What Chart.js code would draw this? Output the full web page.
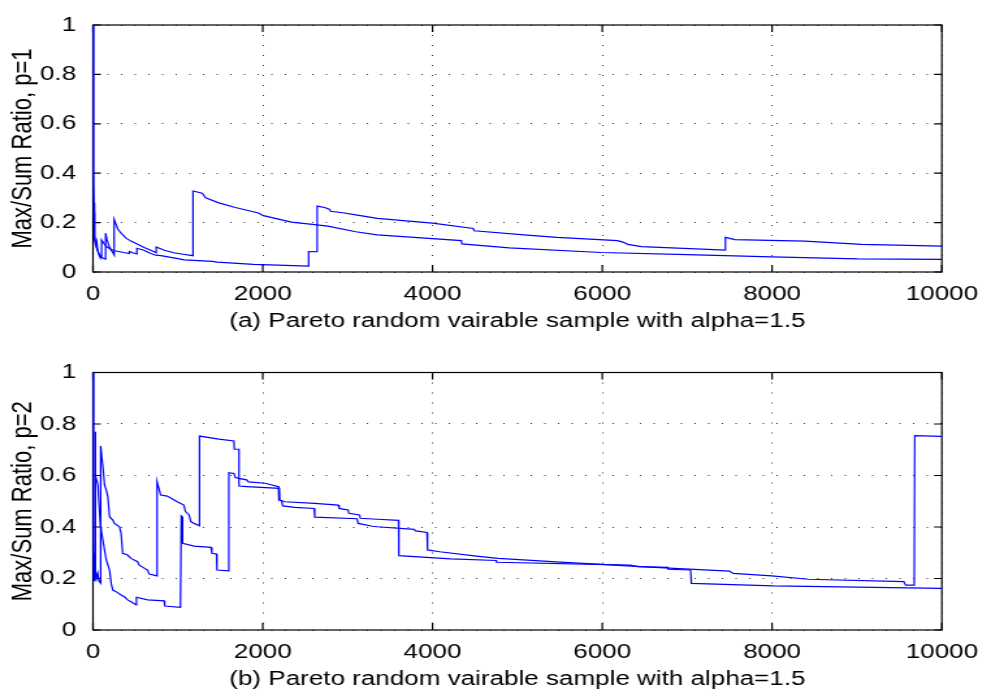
<!DOCTYPE html>
<html>
<head>
<meta charset="utf-8">
<script src="https://cdn.jsdelivr.net/npm/chart.js@4.4.1/dist/chart.umd.min.js"></script>
<style>
  html, body { margin: 0; padding: 0; background: #fff; }
  canvas { display: block; }
</style>
</head>
<body>
<!-- canvases are drawn 762 wide and stretched to 991, like the source figure -->
<canvas id="chartA" width="762" height="347" style="width:991px;height:347px"></canvas>
<canvas id="chartB" width="762" height="347" style="width:991px;height:347px"></canvas>
<script>
// tick values
const xTicks = [0, 2000, 4000, 6000, 8000, 10000]
const yTicks = [0, 0.2, 0.4, 0.6, 0.8, 1]

// (a) p=1, first run
const topAx = [1, 3, 6, 10, 15, 22, 30, 40, 55, 75, 100, 125, 148, 148, 165, 185, 210, 235, 249, 249,
  292, 331, 389, 447, 525, 603, 681, 745, 745, 840, 950, 1060, 1178, 1178, 1287, 1327, 1482, 1677, 1949, 2007,
  2337, 2610, 2766, 3096, 3349, 4340, 4345, 4905, 5987, 7000, 8000, 9009, 10000]
const topAy = [1, 0.6, 0.4, 0.28, 0.2, 0.15, 0.12, 0.1, 0.085, 0.07, 0.06, 0.055, 0.052, 0.157, 0.13, 0.11, 0.09, 0.078, 0.069, 0.213,
  0.174, 0.157, 0.137, 0.125, 0.112, 0.099, 0.088, 0.078, 0.101, 0.088, 0.078, 0.072, 0.066, 0.328, 0.319, 0.30, 0.28, 0.261, 0.239, 0.228,
  0.202, 0.192, 0.186, 0.163, 0.150, 0.127, 0.114, 0.098, 0.079, 0.07, 0.061, 0.053, 0.051]

// (a) p=1, second run
const topBx = [1, 3, 6, 10, 15, 22, 30, 43, 55, 70, 82, 101, 101, 130, 170, 210, 253, 300, 360, 428,
  428, 470, 517, 517, 600, 680, 739, 801, 1015, 1073, 1404, 1462, 1890, 1987, 2540, 2540, 2641, 2641, 2727, 2785,
  2800, 2941, 3096, 3349, 3998, 4480, 4490, 5077, 5467, 6180, 6250, 6300, 6460, 7450, 7450, 7562, 8385, 9055, 10000]
const topBy = [1, 0.55, 0.35, 0.24, 0.17, 0.13, 0.11, 0.125, 0.09, 0.07, 0.06, 0.058, 0.13, 0.115, 0.1, 0.092, 0.086, 0.083, 0.079, 0.075,
  0.083, 0.078, 0.073, 0.096, 0.088, 0.075, 0.068, 0.066, 0.053, 0.049, 0.043, 0.040, 0.031, 0.030, 0.024, 0.083, 0.082, 0.267, 0.261, 0.254,
  0.246, 0.240, 0.231, 0.217, 0.198, 0.176, 0.167, 0.150, 0.140, 0.127, 0.12, 0.112, 0.103, 0.089, 0.140, 0.131, 0.125, 0.112, 0.105]

// (b) p=2, first run
const botPx = [1, 3, 6, 10, 15, 20, 30, 40, 55, 70, 90, 90, 117, 136, 155, 175, 195, 233, 253, 311,
  331, 350, 408, 447, 525, 545, 642, 662, 755, 755, 797, 875, 992, 1070, 1089, 1132, 1152, 1190, 1255, 1255,
  1482, 1660, 1665, 1720, 1720, 1812, 2195, 2200, 2260, 2610, 2890, 2900, 3005, 3015, 3140, 3150, 3349, 3600, 3603, 4213,
  4750, 4755, 6332, 6419, 6770, 6775, 7040, 7050, 8017, 10000]
const botPy = [1, 0.5, 0.3, 0.2, 0.26, 0.19, 0.23, 0.2, 0.22, 0.19, 0.182, 0.715, 0.634, 0.563, 0.545, 0.518, 0.44, 0.427, 0.414, 0.401,
  0.375, 0.298, 0.291, 0.278, 0.265, 0.252, 0.233, 0.217, 0.21, 0.576, 0.524, 0.52, 0.498, 0.485, 0.46, 0.447, 0.421, 0.414, 0.405, 0.753,
  0.741, 0.734, 0.702, 0.702, 0.559, 0.557, 0.55, 0.505, 0.498, 0.492, 0.485, 0.472, 0.466, 0.453, 0.447, 0.434, 0.43, 0.426, 0.289, 0.276,
  0.27, 0.263, 0.252, 0.246, 0.243, 0.236, 0.233, 0.181, 0.171, 0.162]

// (b) p=2, second run
const botQx = [1, 3, 6, 10, 14, 18, 22, 27, 27, 31, 58, 70, 90, 97, 136, 156, 195, 214, 233, 272,
  331, 370, 408, 447, 510, 512, 642, 840, 845, 1030, 1040, 1050, 1056, 1190, 1390, 1400, 1455, 1460, 1597, 1600,
  1660, 1675, 1715, 1810, 1830, 2027, 2185, 2190, 2221, 2235, 2377, 2605, 2612, 3110, 3125, 3290, 3349, 3781, 3800, 3935,
  3941, 4085, 4516, 4773, 5554, 5942, 6289, 6785, 7499, 7542, 7995, 8428, 9552, 9573, 9675, 9681, 10000]
const botQy = [1, 0.6, 0.35, 0.22, 0.3, 0.19, 0.26, 0.2, 0.77, 0.6, 0.563, 0.492, 0.401, 0.388, 0.31, 0.272, 0.233, 0.181, 0.155, 0.149,
  0.136, 0.129, 0.117, 0.11, 0.097, 0.127, 0.117, 0.113, 0.093, 0.088, 0.443, 0.44, 0.337, 0.326, 0.321, 0.298, 0.295, 0.233, 0.23, 0.611,
  0.608, 0.593, 0.589, 0.583, 0.575, 0.57, 0.557, 0.505, 0.502, 0.482, 0.476, 0.472, 0.438, 0.432, 0.414, 0.403, 0.401, 0.391, 0.385, 0.379,
  0.311, 0.304, 0.287, 0.278, 0.263, 0.256, 0.249, 0.24, 0.229, 0.22, 0.21, 0.197, 0.188, 0.174, 0.174, 0.755, 0.752]

Chart.defaults.font.family = "'Liberation Sans', Arial, sans-serif"
Chart.defaults.color = "#000"

// axes box with inward tick marks, like matlab
const boxPlugin = {
  id: "box",
  beforeDatasetsDraw(chart) {
    const { ctx, chartArea: a, scales } = chart
    ctx.save()
    ctx.strokeStyle = "#000"
    ctx.lineWidth = 1.2
    ctx.strokeRect(a.left, a.top, a.right - a.left, a.bottom - a.top)
    ctx.beginPath()
    scales.x.ticks.forEach((t) => {
      const px = scales.x.getPixelForValue(t.value)
      ctx.moveTo(px, a.bottom)
      ctx.lineTo(px, a.bottom - 7)
      ctx.moveTo(px, a.top)
      ctx.lineTo(px, a.top + 7)
    })
    scales.y.ticks.forEach((t) => {
      const py = scales.y.getPixelForValue(t.value)
      ctx.moveTo(a.left, py)
      ctx.lineTo(a.left + 6, py)
      ctx.moveTo(a.right, py)
      ctx.lineTo(a.right - 6, py)
    })
    ctx.stroke()
    ctx.restore()
  },
}

function makeChart(id, series, yLabel, xLabel, lay) {
  const tickFont = { size: 20 }
  new Chart(document.getElementById(id), {
    type: "line",
    data: {
      datasets: series.map(([xs, ys]) => ({
        data: xs.map((x, i) => ({ x: x, y: ys[i] })),
        borderColor: "#0000ff",
        borderWidth: 1.2,
        pointRadius: 0,
        tension: 0,
        fill: false,
      })),
    },
    options: {
      responsive: false,
      animation: false,
      layout: { padding: { top: lay.top, right: 31.5, bottom: 0, left: 0 } },
      plugins: { legend: { display: false }, tooltip: { enabled: false } },
      scales: {
        x: {
          type: "linear",
          min: 0,
          max: 10000,
          afterBuildTicks: (s) => { s.ticks = xTicks.map((v) => ({ value: v })) },
          afterFit: (s) => { s.height = lay.xHeight },
          ticks: { callback: (v) => String(v), padding: 10, maxRotation: 0, autoSkip: false, font: tickFont },
          grid: { color: "#333", lineWidth: 1, drawTicks: false },
          border: { display: false, dash: [1, 9] },
          title: { display: true, text: xLabel, font: { size: 20 }, padding: { top: 0, bottom: lay.titlePad } },
        },
        y: {
          min: 0,
          max: 1,
          afterBuildTicks: (s) => { s.ticks = yTicks.map((v) => ({ value: v })) },
          afterFit: (s) => { s.width = 71.5 },
          ticks: { callback: (v) => String(v), padding: 13, font: tickFont },
          grid: { color: "#333", lineWidth: 1, drawTicks: false },
          border: { display: false, dash: [1, 9.5] },
          title: { display: true, text: yLabel, font: { size: 22 }, padding: { top: 4.5, bottom: 0 } },
        },
      },
    },
    plugins: [boxPlugin],
  })
}

makeChart("chartA", [[topAx, topAy], [topBx, topBy]], "Max/Sum Ratio, p=1",
  "(a) Pareto random vairable sample with alpha=1.5", { top: 15, xHeight: 75, titlePad: 13.7 })
makeChart("chartB", [[botPx, botPy], [botQx, botQy]], "Max/Sum Ratio, p=2",
  "(b) Pareto random vairable sample with alpha=1.5", { top: 25.5, xHeight: 64, titlePad: 2.7 })
</script>
</body>
</html>
